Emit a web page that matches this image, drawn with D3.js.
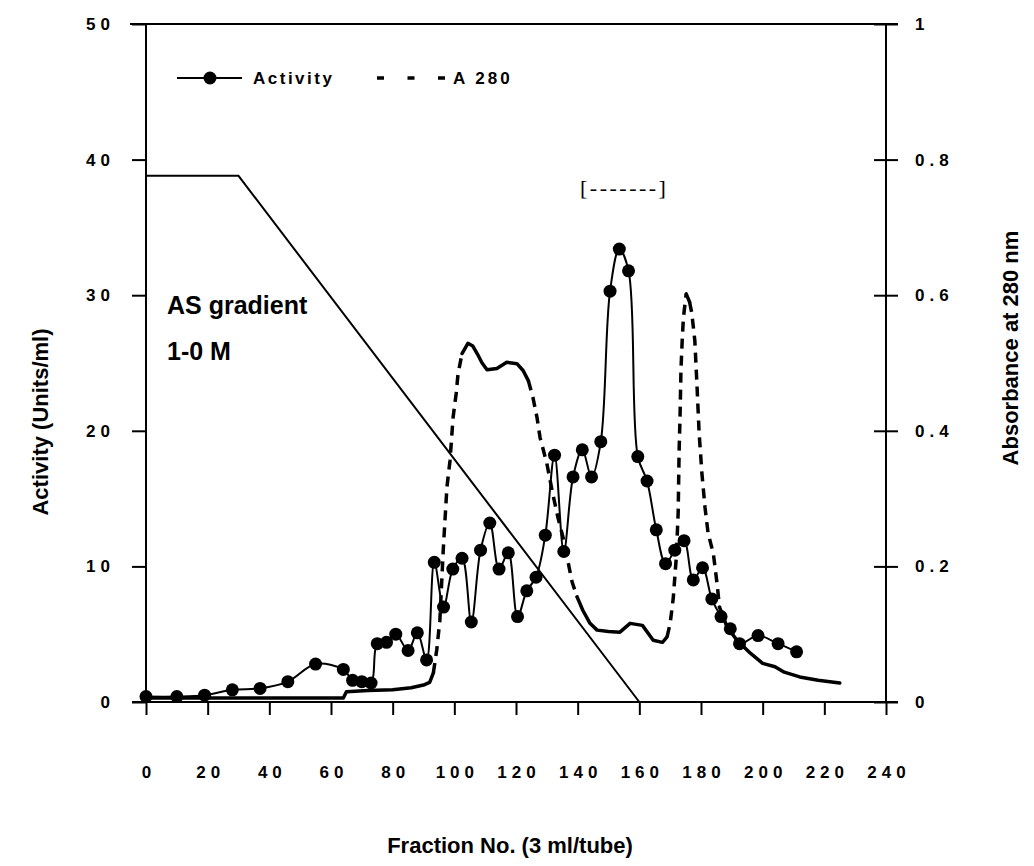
<!DOCTYPE html>
<html>
<head>
<meta charset="utf-8">
<script src="https://cdn.jsdelivr.net/npm/d3@7"></script>
<style>
  body { margin: 0; background: #fff; }
  svg { font-family: "Liberation Sans", Arial, sans-serif; }
  .tick text { font-weight: bold; font-size: 17px; letter-spacing: 5px; fill: #000; }
  .tick line { stroke: #000; stroke-width: 2; }
  .title { font-weight: bold; font-size: 22px; }
</style>
</head>
<body>
<svg width="1034" height="866"></svg>
<script>
// fraction number and enzyme activity (Units/ml)
const actFraction = [0, 10, 19, 28, 37, 46, 55, 64, 67, 70, 73, 75, 78, 81, 85, 88, 91, 93.5, 96.5, 99.5,
  102.5, 105.5, 108.5, 111.5, 114.5, 117.5, 120.5, 123.5, 126.5, 129.5, 132.5, 135.5, 138.5, 141.5, 144.5,
  147.5, 150.5, 153.5, 156.5, 159.5, 162.5, 165.5, 168.5, 171.5, 174.5, 177.5, 180.5, 183.5, 186.5, 189.5,
  192.5, 198.5, 205, 211];
const activity = [0.4, 0.4, 0.5, 0.9, 1.0, 1.5, 2.8, 2.4, 1.6, 1.5, 1.4, 4.3, 4.4, 5.0, 3.8, 5.1, 3.1, 10.3, 7.0, 9.8,
  10.6, 5.9, 11.2, 13.2, 9.8, 11.0, 6.3, 8.2, 9.2, 12.3, 18.2, 11.1, 16.6, 18.6, 16.6,
  19.2, 30.3, 33.4, 31.8, 18.1, 16.3, 12.7, 10.2, 11.2, 11.9, 9.0, 9.9, 7.6, 6.3, 5.4,
  4.3, 4.9, 4.3, 3.7];

// absorbance at 280 nm
const a280Fraction = [0, 64, 65, 72, 80, 86, 90, 92, 93.2, 94.3, 95.3, 96.4, 97.6, 98.6, 99.6, 100.6, 101.2,
  102.5, 104.4, 106, 107.4, 109, 110.6, 113.8, 117, 120.3, 122.3, 124, 125.5, 126.8, 127.8, 130, 131.7,
  133.6, 135.3, 136.9, 138.2, 139.8, 141.7, 144, 146.3, 150, 153.7, 157, 161, 164.5, 167.5, 169, 170, 171,
  172, 172.6, 172.9, 173.2, 173.5, 173.9, 174.3, 175.2, 176.3, 177, 178, 178.7, 179.4, 180.3, 181.3, 182.3,
  184, 185.2, 186, 188.5, 191.7, 196, 200, 204, 207, 212, 218, 225];
const a280 = [0.006, 0.006, 0.015, 0.017, 0.018, 0.021, 0.025, 0.029, 0.043, 0.077, 0.12, 0.224, 0.317, 0.356, 0.42, 0.455, 0.484,
  0.514, 0.529, 0.525, 0.514, 0.5, 0.49, 0.492, 0.501, 0.499, 0.489, 0.474, 0.449, 0.42, 0.39, 0.352, 0.312,
  0.272, 0.242, 0.206, 0.177, 0.155, 0.135, 0.116, 0.106, 0.104, 0.103, 0.116, 0.113, 0.091, 0.088, 0.096, 0.116, 0.153,
  0.214, 0.28, 0.37, 0.42, 0.49, 0.533, 0.567, 0.602, 0.59, 0.574, 0.533, 0.467, 0.396, 0.337, 0.287, 0.249,
  0.219, 0.175, 0.14, 0.11, 0.091, 0.072, 0.057, 0.052, 0.044, 0.037, 0.032, 0.028];

// ammonium sulfate gradient (M)
const gradFraction = [0, 30, 160];
const gradMolar = [1, 1, 0];

const fractionTicks = [0, 20, 40, 60, 80, 100, 120, 140, 160, 180, 200, 220, 240];
const activityTicks = [0, 10, 20, 30, 40, 50];
const absTicks = [0, 0.2, 0.4, 0.6, 0.8, 1];

const svg = d3.select("svg");

const x = d3.scaleLinear().domain([0, 240]).range([146, 886]);
const yL = d3.scaleLinear().domain([0, 50]).range([702, 24]);
const yR = d3.scaleLinear().domain([0, 1]).range([702, 24]);
// 1 M is drawn at 0.776 of the absorbance scale
const yG = d3.scaleLinear().domain([0, 1]).range([yR(0), yR(0.776)]);

// frame
const frame = svg.append("g").attr("stroke", "#000").attr("stroke-width", 2);
frame.append("line").attr("x1", x(0) - 14).attr("x2", x(240) + 12).attr("y1", yL(0)).attr("y2", yL(0));
frame.append("line").attr("x1", x(0) - 16).attr("x2", x(240) + 12).attr("y1", yL(50)).attr("y2", yL(50));
frame.append("line").attr("x1", x(0)).attr("x2", x(0)).attr("y1", yL(50)).attr("y2", yL(0));
frame.append("line").attr("x1", x(240)).attr("x2", x(240)).attr("y1", yL(50)).attr("y2", yL(0));

// axes
const xAxis = svg.append("g")
  .attr("transform", `translate(0,${yL(0)})`)
  .call(d3.axisBottom(x).tickValues(fractionTicks).tickSize(13).tickFormat(d3.format("d")));
xAxis.select(".domain").remove();
xAxis.selectAll("text").attr("y", 70).attr("dy", "0.35em").attr("dx", 2.5);

const yAxisL = svg.append("g")
  .attr("transform", `translate(${x(0)},0)`)
  .call(d3.axisLeft(yL).tickValues(activityTicks).tickSize(14));
yAxisL.select(".domain").remove();
yAxisL.selectAll("text").attr("x", -31);

const yAxisR = svg.append("g")
  .attr("transform", `translate(${x(240)},0)`)
  .call(d3.axisRight(yR).tickValues(absTicks).tickSize(12).tickFormat(d => d === 0 || d === 1 ? d : d.toFixed(1)));
yAxisR.select(".domain").remove();
yAxisR.selectAll("line").attr("x1", -12);
yAxisR.selectAll("text").attr("x", 29);

// gradient
svg.append("path")
  .datum(gradFraction.map((f, i) => [f, gradMolar[i]]))
  .attr("fill", "none").attr("stroke", "#000").attr("stroke-width", 2)
  .attr("d", d3.line().x(d => x(d[0])).y(d => yG(d[1])));

// A280: steep stretches are dashed, flat stretches look solid
const absPts = a280Fraction.map((f, i) => [x(f), yR(a280[i])]);
const runs = [];
for (let i = 1; i < absPts.length; i++) {
  const a = absPts[i - 1], b = absPts[i];
  const steep = Math.abs(b[1] - a[1]) > 3 * Math.abs(b[0] - a[0]);
  const last = runs[runs.length - 1];
  if (last && last.steep === steep) last.pts.push(b);
  else runs.push({ steep, pts: [a, b] });
}
svg.append("g").selectAll("path")
  .data(runs)
  .join("path")
  .attr("fill", "none").attr("stroke", "#000").attr("stroke-width", 3.5)
  .attr("stroke-linejoin", "round")
  .attr("stroke-linecap", d => d.steep ? "butt" : "round")
  .attr("stroke-dasharray", d => d.steep ? "10,7" : null)
  .attr("d", d => d3.line()(d.pts));

// activity
const actData = actFraction.map((f, i) => [f, activity[i]]);
svg.append("path")
  .datum(actData)
  .attr("fill", "none").attr("stroke", "#000").attr("stroke-width", 2)
  .attr("d", d3.line().x(d => x(d[0])).y(d => yL(d[1])).curve(d3.curveCatmullRom.alpha(0.5)));
svg.append("g").selectAll("circle")
  .data(actData)
  .join("circle")
  .attr("cx", d => x(d[0])).attr("cy", d => yL(d[1])).attr("r", 6.5)
  .attr("fill", "#000");

// legend
const lg = svg.append("g");
lg.append("line").attr("x1", 177).attr("x2", 242).attr("y1", 78).attr("y2", 78)
  .attr("stroke", "#000").attr("stroke-width", 2);
lg.append("circle").attr("cx", 210).attr("cy", 78).attr("r", 6.5).attr("fill", "#000");
lg.append("text").attr("x", 253).attr("y", 84).text("Activity")
  .attr("font-weight", "bold").attr("font-size", 17).attr("letter-spacing", 2.5);
lg.append("line").attr("x1", 377).attr("x2", 445).attr("y1", 78).attr("y2", 78)
  .attr("stroke", "#000").attr("stroke-width", 3.5).attr("stroke-dasharray", "7,23.5");
lg.append("text").attr("x", 453).attr("y", 84).text("A 280")
  .attr("font-weight", "bold").attr("font-size", 17).attr("letter-spacing", 3);

// annotations
svg.append("text").attr("x", 167).attr("y", 314).text("AS gradient")
  .attr("font-weight", "bold").attr("font-size", 25);
svg.append("text").attr("x", 167).attr("y", 360).text("1-0 M")
  .attr("font-weight", "bold").attr("font-size", 25);
svg.append("text").attr("x", 580).attr("y", 195).text("[-------]")
  .attr("font-family", "Liberation Serif, serif").attr("font-size", 22).attr("letter-spacing", 2.5);

// axis titles
svg.append("text").attr("class", "title")
  .attr("transform", "translate(48,422) rotate(-90)")
  .attr("text-anchor", "middle").text("Activity (Units/ml)");
svg.append("text").attr("class", "title")
  .attr("transform", "translate(1018,348) rotate(-90)")
  .attr("text-anchor", "middle").text("Absorbance at 280 nm");
svg.append("text").attr("class", "title")
  .attr("x", 510).attr("y", 853)
  .attr("text-anchor", "middle").text("Fraction No. (3 ml/tube)");
</script>
</body>
</html>
